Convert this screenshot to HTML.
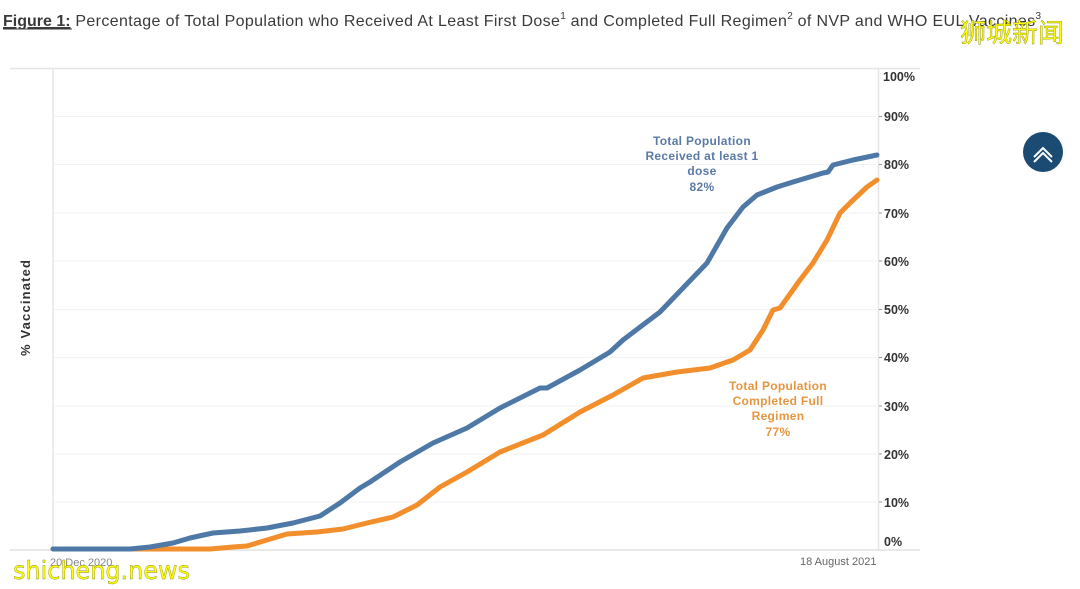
<!DOCTYPE html>
<html>
<head>
<meta charset="utf-8">
<style>
html,body{margin:0;padding:0;background:#fff;}
body{width:1080px;height:589px;position:relative;overflow:hidden;font-family:"Liberation Sans","Noto Sans CJK SC",sans-serif;}
svg{position:absolute;left:0;top:0;}
</style>
</head>
<body>
<svg width="1080" height="589" viewBox="0 0 1080 589" xmlns="http://www.w3.org/2000/svg">
  <!-- title -->
  <text x="3" y="26" font-family="Liberation Sans, sans-serif" font-size="16" fill="#3a3a3a"><tspan font-weight="bold" text-decoration="underline">Figure 1:</tspan><tspan letter-spacing="0.36"> Percentage of Total Population who Received At Least First Dose</tspan><tspan font-size="10" dy="-7">1</tspan><tspan dy="7" letter-spacing="0.36"> and Completed Full Regimen</tspan><tspan font-size="10" dy="-7">2</tspan><tspan dy="7" letter-spacing="0.36"> of NVP and WHO EUL Vaccines</tspan><tspan font-size="10" dy="-7">3</tspan></text>
  <line x1="3" y1="29" x2="72" y2="29" stroke="#3a3a3a" stroke-width="1"/>

  <!-- frame -->
  <line x1="10" y1="68.5" x2="920" y2="68.5" stroke="#e6e6e6" stroke-width="1.5"/>
  <line x1="10" y1="550" x2="920" y2="550" stroke="#e2e2e2" stroke-width="1.5"/>
  <line x1="53" y1="68" x2="53" y2="550" stroke="#e6e6e6" stroke-width="1.5"/>
  <line x1="878.5" y1="68" x2="878.5" y2="550" stroke="#e6e6e6" stroke-width="1.5"/>

  <!-- gridlines -->
  <g stroke="#f3f3f3" stroke-width="1">
    <line x1="54" y1="116.5" x2="877" y2="116.5"/>
    <line x1="54" y1="164.5" x2="877" y2="164.5"/>
    <line x1="54" y1="213" x2="877" y2="213"/>
    <line x1="54" y1="261" x2="877" y2="261"/>
    <line x1="54" y1="309.5" x2="877" y2="309.5"/>
    <line x1="54" y1="357.5" x2="877" y2="357.5"/>
    <line x1="54" y1="406" x2="877" y2="406"/>
    <line x1="54" y1="454" x2="877" y2="454"/>
    <line x1="54" y1="502" x2="877" y2="502"/>
  </g>
  <!-- ticks -->
  <g stroke="#999" stroke-width="1">
    <line x1="879" y1="116.5" x2="882" y2="116.5"/>
    <line x1="879" y1="164.5" x2="882" y2="164.5"/>
    <line x1="879" y1="213" x2="882" y2="213"/>
    <line x1="879" y1="261" x2="882" y2="261"/>
    <line x1="879" y1="309.5" x2="882" y2="309.5"/>
    <line x1="879" y1="357.5" x2="882" y2="357.5"/>
    <line x1="879" y1="406" x2="882" y2="406"/>
    <line x1="879" y1="454" x2="882" y2="454"/>
    <line x1="879" y1="502" x2="882" y2="502"/>
  </g>
  <g font-family="Liberation Sans, sans-serif" font-size="12.5" font-weight="bold" fill="#333">
    <text x="883" y="81">100%</text>
    <text x="884" y="121">90%</text>
    <text x="884" y="169">80%</text>
    <text x="884" y="218">70%</text>
    <text x="884" y="266">60%</text>
    <text x="884" y="314">50%</text>
    <text x="884" y="362">40%</text>
    <text x="884" y="411">30%</text>
    <text x="884" y="459">20%</text>
    <text x="884" y="507">10%</text>
    <text x="884" y="546">0%</text>
  </g>

  <!-- y axis label -->
  <text transform="translate(30,308) rotate(-90)" text-anchor="middle" font-family="Liberation Sans, sans-serif" font-size="13" font-weight="bold" fill="#333" textLength="96" lengthAdjust="spacing">% Vaccinated</text>

  <!-- x labels -->
  <text x="50" y="566" font-family="Liberation Sans, sans-serif" font-size="11" fill="#888">20 Dec 2020</text>
  <text x="800" y="565" font-family="Liberation Sans, sans-serif" font-size="11" fill="#666">18 August 2021</text>

  <!-- series -->
  <polyline fill="none" stroke="#F28E2B" stroke-width="5" stroke-linejoin="round" stroke-linecap="round"
    points="53,549 210,549 233,547 247,546 267,540 287,534 317,532 343,529 367,523 393,517 417,505 440,487 467,472 500,452 543,435 580,412 613,395 643,378 677,372 710,368 733,360 750,350 763,330 773,310 780,308 800,280 813,263 827,240 840,213 850,203 867,187 877,180"/>
  <polyline fill="none" stroke="#4E79A7" stroke-width="5" stroke-linejoin="round" stroke-linecap="round"
    points="53,549 130,549 150,547 173,543 190,538 213,533 240,531 267,528 293,523 320,516 340,503 360,488 370,482 400,462 433,443 467,428 500,408 540,388 547,388 580,370 610,352 623,340 660,312 683,288 707,263 727,228 743,207 757,195 777,187 793,182 823,173 828,172 833,165 853,160 877,155"/>

  <!-- annotations -->
  <g font-family="Liberation Sans, sans-serif" font-size="12" font-weight="bold" fill="#5b7aa6" text-anchor="middle" letter-spacing="0.3">
    <text x="702" y="145">Total Population</text>
    <text x="702" y="160">Received at least 1</text>
    <text x="702" y="175">dose</text>
    <text x="702" y="191">82%</text>
  </g>
  <g font-family="Liberation Sans, sans-serif" font-size="12" font-weight="bold" fill="#e8953f" text-anchor="middle" letter-spacing="0.3">
    <text x="778" y="390">Total Population</text>
    <text x="778" y="405">Completed Full</text>
    <text x="778" y="420">Regimen</text>
    <text x="778" y="436">77%</text>
  </g>

  <!-- scroll up button -->
  <circle cx="1043" cy="152" r="20" fill="#1b4a72"/>
  <polyline points="1034,157 1043,148 1052,157" fill="none" stroke="#fff" stroke-width="2"/>
  <polyline points="1034,162 1043,153 1052,162" fill="none" stroke="#fff" stroke-width="2"/>

  <!-- watermarks -->
  <text x="960" y="42" font-family="Noto Sans CJK SC, WenQuanYi Zen Hei, sans-serif" font-size="26" fill="#ffff00" stroke="#8a8a20" stroke-width="0.4" textLength="104" lengthAdjust="spacingAndGlyphs">狮城新闻</text>
  <text x="13" y="579" font-family="DejaVu Sans, Liberation Sans, sans-serif" font-size="25" fill="#ffff00" stroke="#8a8a20" stroke-width="0.4" textLength="177" lengthAdjust="spacingAndGlyphs">shicheng.news</text>
</svg>
</body>
</html>
